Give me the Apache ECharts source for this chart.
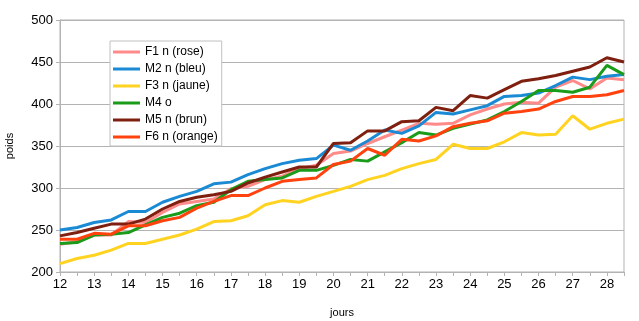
<!DOCTYPE html>
<html><head><meta charset="utf-8">
<script src="https://cdn.jsdelivr.net/npm/echarts@6/dist/echarts.min.js"></script>
<style>html,body{margin:0;padding:0;background:#fff}#c{width:639px;height:321px}</style>
</head><body><div id="c"></div>
<script>
var days = ['12','12.5','13','13.5','14','14.5','15','15.5','16','16.5','17','17.5','18','18.5','19','19.5','20','20.5','21','21.5','22','22.5','23','23.5','24','24.5','25','25.5','26','26.5','27','27.5','28','28.5'];
var seriesNames = ['F1 n (rose)','M2 n (bleu)','F3 n (jaune)','M4 o','M5 n (brun)','F6 n (orange)'];
var F1 = [233,236,244,244,260,259,271,281,284,287,299,302,310,314,323,327,341,344,353,361,369,377,376,377,387,394,400,402,401,420,428,418,431,429];
var M2 = [250,253,259,262,272,272,283,290,296,305,307,316,323,329,333,335,351,345,356,369,365,374,390,388,393,398,409,410,413,422,432,429,433,435];
var F3 = [210,216,220,226,234,234,239,244,251,260,261,267,280,285,283,290,296,302,310,315,323,329,334,352,347,347,355,366,363,364,386,370,377,382];
var M4 = [234,235,244,245,247,256,265,270,279,283,298,308,310,312,321,321,327,334,332,343,354,366,363,371,376,381,391,403,416,416,414,420,446,435];
var M5 = [243,247,252,257,257,263,275,284,289,292,296,306,313,319,325,325,353,354,368,368,379,380,396,392,410,407,417,427,430,434,439,444,455,450];
var F6 = [239,239,246,245,255,255,261,265,276,284,291,291,300,308,310,312,328,332,347,339,358,356,362,373,377,380,389,391,394,403,409,409,411,416];
var colors = ['#ff8a8a','#1a8ad4','#ffd320','#1a9c1a','#7e1f10','#ff420e'];
var values = [F1,M2,F3,M4,M5,F6];

var chart = echarts.init(document.getElementById('c'));
var font = 'Liberation Sans';
chart.setOption({
  animation:false,
  backgroundColor:'#fff',
  grid:{left:60,right:15,top:20,bottom:49,show:true,borderColor:'#b3b3b3',borderWidth:1,
    containLabel:false,outerBoundsMode:'none'},
  legend:{
    orient:'vertical',left:110,top:41,
    backgroundColor:'#fff',borderColor:'#c0c0c0',borderWidth:1,
    padding:[5,4,3,3],itemGap:5,itemWidth:27,itemHeight:3,
    textStyle:{fontFamily:font,fontSize:12,color:'#000'},
    icon:'rect',
    data:seriesNames
  },
  xAxis:{
    type:'category',data:days,boundaryGap:false,
    name:'jours',nameLocation:'middle',nameGap:35,
    nameTextStyle:{fontFamily:font,fontSize:11,color:'#000'},
    axisLine:{lineStyle:{color:'#b3b3b3'}},
    axisTick:{interval:0,length:4,lineStyle:{color:'#b3b3b3'}},
    axisLabel:{interval:0,fontFamily:font,fontSize:13,color:'#000',margin:6,
      formatter:function(v){return v.indexOf('.')<0?v:'';}},
    splitLine:{show:false}
  },
  yAxis:{
    type:'value',min:200,max:500,interval:50,
    name:'poids',nameLocation:'middle',nameGap:45,nameRotate:90,
    nameTextStyle:{fontFamily:font,fontSize:11,color:'#000'},
    axisLine:{show:true,lineStyle:{color:'#b3b3b3'}},
    axisTick:{show:true,length:4,lineStyle:{color:'#b3b3b3'}},
    axisLabel:{fontFamily:font,fontSize:13,color:'#000',margin:7},
    splitLine:{lineStyle:{color:'#b3b3b3'}}
  },
  series: seriesNames.map(function(n,i){
    return {name:n,type:'line',data:values[i],showSymbol:false,symbol:'none',
      lineStyle:{width:3,color:colors[i]},itemStyle:{color:colors[i]}};
  })
});
</script></body></html>
